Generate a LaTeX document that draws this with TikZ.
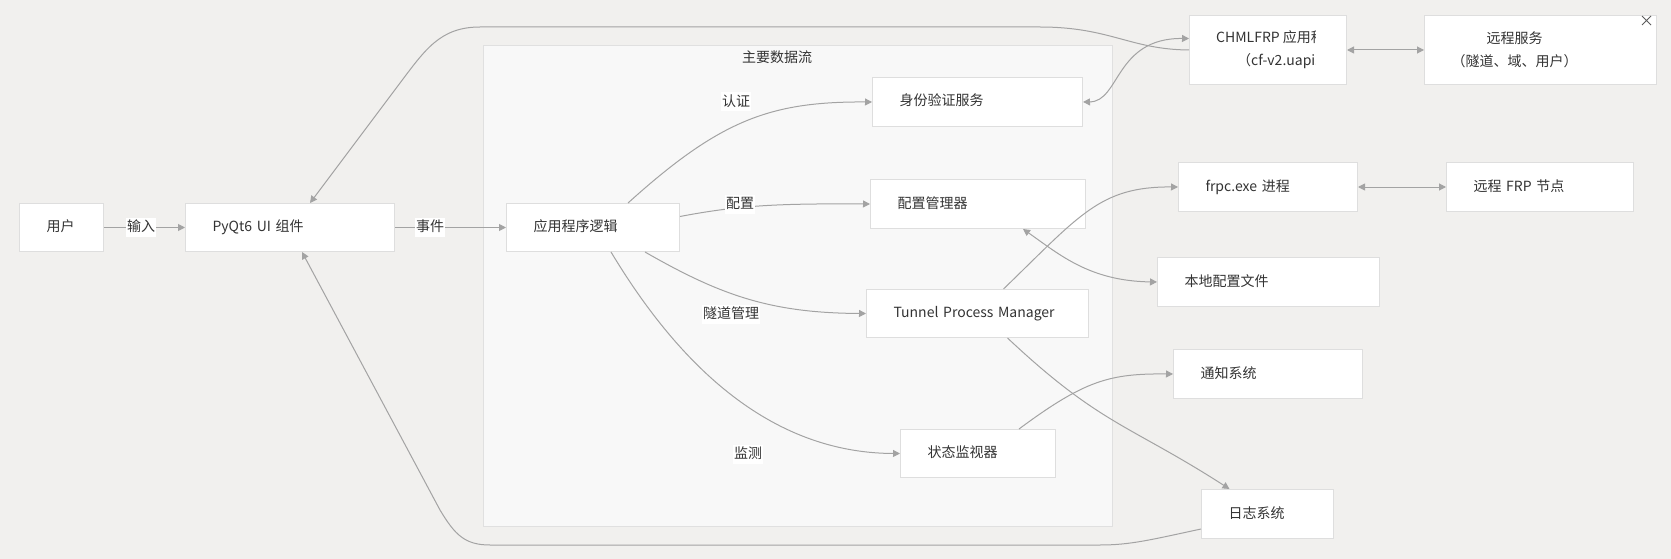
\documentclass[tikz,border=0pt]{standalone}
\usepackage{fontspec}
\setmainfont{Noto Sans CJK SC}
\usepackage{xcolor}
\usepackage{tikz}
\usetikzlibrary{arrows.meta}
\definecolor{bgcol}{HTML}{F1F0EE}
\definecolor{flowfill}{HTML}{F8F8F8}
\definecolor{flowline}{HTML}{E0E0E0}
\definecolor{boxline}{HTML}{DEDEDE}
\definecolor{linkcol}{HTML}{A3A3A3}
\definecolor{txtcol}{HTML}{333333}

\begin{document}
\begin{tikzpicture}[
                        x=1pt, y=-1pt,
                        every node/.style={
                                font=\fontsize{14}{23}\selectfont,
                                text=txtcol,
                            },
                        base/.style={draw=boxline, fill=white, line width=1pt, anchor=north west,
                                inner xsep=27pt, inner ysep=0pt, minimum height=48pt},
                        blk/.style={base, align=left, text height=11pt, text depth=3pt},
                        lbl/.style={fill=white, inner xsep=1pt, inner ysep=0pt, text height=14pt, text depth=5pt},
                        link/.style={draw=linkcol, line width=1pt, -{Triangle[length=7pt,width=7pt]}},
                        twoway/.style={link, {Triangle[length=7pt,width=7pt]}-{Triangle[length=7pt,width=7pt]}},
                    ]

                    \fill[bgcol] (0,0) rectangle (1671,559);

                    \node[draw=flowline, fill=flowfill, line width=1pt, anchor=north west,
                        minimum width=629pt, minimum height=481pt, inner sep=0pt] (flow) at (483,45) {};
                    \node (flowtitle) at (777,57) {主要数据流};

                    \node[blk, text width=30pt] (user) at (19,203) {用户};
                    \node[blk, text width=155pt] (ui) at (185,203) {PyQt6 UI 组件};
                    \node[blk, text width=119pt] (app) at (506,203) {应用程序逻辑};
                    \node[blk, text width=156pt, minimum height=49pt] (auth) at (872,77) {身份验证服务};
                    \node[blk, text width=161pt, minimum height=49pt] (cfg) at (870,179) {配置管理器};
                    \node[blk, text width=168pt] (tpm) at (866,289) {Tunnel~Process~Manager};
                    \node[blk, text width=101pt] (sta) at (900,429) {状态监视器};
                    \node[blk, text width=125pt, minimum height=49pt] (frpc) at (1178,162) {frpc.exe 进程};
                    \node[blk, text width=133pt, minimum height=49pt] (frp) at (1446,162) {远程 FRP 节点};
                    \node[blk, text width=168pt, minimum height=49pt] (local) at (1157,257) {本地配置文件};
                    \node[blk, text width=135pt, minimum height=49pt] (notif) at (1173,349) {通知系统};
                    \node[blk, text width=78pt, minimum height=49pt] (log) at (1201,489) {日志系统};
                    \node[base, align=left, text width=178pt, minimum height=69pt] (svc) at (1424,15)
                        {\hspace*{35pt}远程服务\\（隧道、域、用户）};

                    \node[base, inner sep=0pt, minimum width=157pt, minimum height=69pt] (chml) at (1189,15) {};
                    \begin{scope}
                        \clip (chml.north west) rectangle ([xshift=-32pt]chml.south east);
                        \node[anchor=west, align=left, inner sep=0pt] (chmltext) at (1216,50)
                            {CHMLFRP 应用程\\\hspace*{21pt}（cf-v2.uapis};
                    \end{scope}

                    \draw[link] (user) -- (ui);
                    \draw[link] (ui) -- (app);
                    \draw[link] ([xshift=35pt]app.north) .. controls (720,120) and (770,101.5) .. (auth.west);
                    \draw[link] ([yshift=11pt]app.east) .. controls (740,205) and (780,203.5) .. (cfg.west);
                    \draw[link] ([xshift=52pt]app.south) .. controls (720,295) and (770,313) .. (tpm.west);
                    \draw[link] ([xshift=18pt]app.south) .. controls (670,350) and (760,453) .. (sta.west);

                    \draw[twoway] (auth.east) .. controls (1120,101.5) and (1115,38) .. ([yshift=11.5pt]chml.west);
                    \draw[link] (chml.west) .. controls (1130,49.5) and (1110,27) .. (1040,27) -- (480,27)
                        .. controls (440,27) and (425,50) .. (400,83) -- ([xshift=20pt]ui.north);
                    \draw[twoway] (chml) -- (svc);

                    \draw[twoway] ([xshift=45pt]cfg.south) .. controls (1060,255) and (1090,281) .. (local.west);
                    \draw[link] ([xshift=26pt]tpm.north) .. controls (1080,215) and (1100,186.5) .. (frpc.west);
                    \draw[twoway] (frpc) -- (frp);
                    \draw[link] ([xshift=30pt]tpm.south) .. controls (1100,425) and (1130,425) .. ([xshift=-38pt]log.north);
                    \draw[link] ([xshift=41pt]sta.north) .. controls (1085,380) and (1110,373.5) .. (notif.west);
                    \draw[link] ([yshift=-15pt]log.west) .. controls (1150,540) and (1130,545) .. (1100,545) -- (490,545)
                        .. controls (465,545) and (455,535) .. (440,510) -- ([xshift=12pt]ui.south);

                    \node[lbl] (lbluser) at (141,227) {输入};
                    \node[lbl] (lblui) at (430,227) {事件};
                    \node[lbl] (lblauth) at (736,102) {认证};
                    \node[lbl] (lblcfg) at (740,204) {配置};
                    \node[lbl] (lbltpm) at (731,314) {隧道管理};
                    \node[lbl] (lblsta) at (748,454) {监测};

                    \draw[txtcol!80, line width=1pt] (1642,16) -- (1651,25) (1642,25) -- (1651,16);
                \end{tikzpicture}
\end{document}
